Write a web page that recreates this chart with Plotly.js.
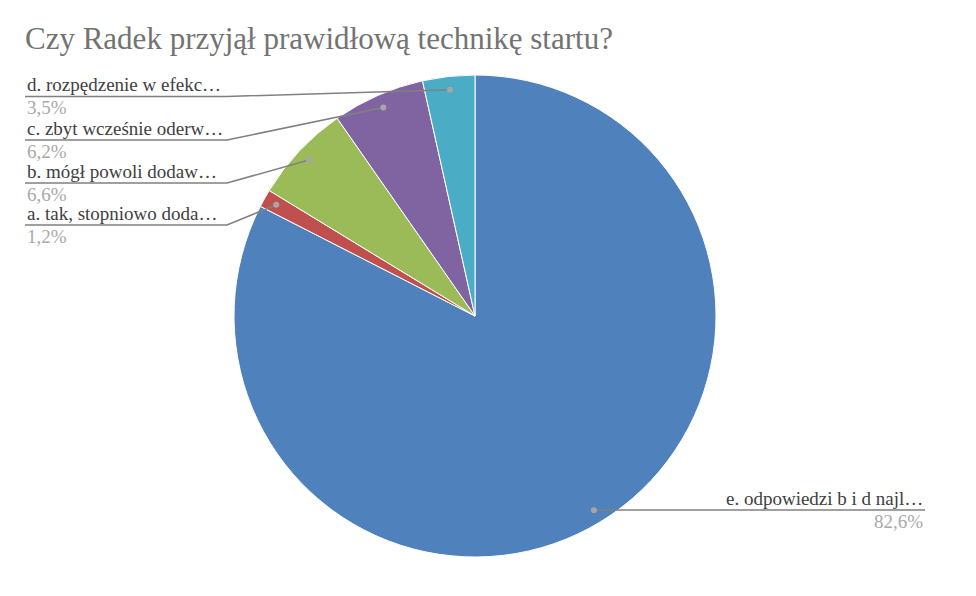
<!DOCTYPE html>
<html>
<head>
<meta charset="utf-8">
<script src="https://cdn.plot.ly/plotly-3.0.1.min.js"></script>
<style>html,body{margin:0;padding:0;background:#fff;}#chart{width:976px;height:596px;}
#chart text{font-family:"Liberation Serif",serif !important;}</style>
</head>
<body>
<div style="position:absolute;left:0;top:0;font-family:'Liberation Serif';font-size:19px;color:#fff;opacity:0.01;">Czy Radek przyjął …</div>
<div id="chart" style="position:relative;"></div>
<script>
const titleText = 'Czy Radek przyjął prawidłową technikę startu?';
const labels = ['e. odpowiedzi b i d najl…', 'a. tak, stopniowo doda…', 'b. mógł powoli dodaw…', 'c. zbyt wcześnie oderw…', 'd. rozpędzenie w efekc…'];
const values = [82.6, 1.2, 6.6, 6.2, 3.5];
const pctLabels = ['82,6%', '1,2%', '6,6%', '6,2%', '3,5%'];
const colors = ['#4f81bd', '#c0504d', '#9bbb59', '#8064a2', '#4bacc6'];

const W = 976, H = 596;
const cx = 475, cy = 316, R = 241;
const px = x => x / W;
const py = y => 1 - y / H;
const SERIF = 'Liberation Serif';

// label layout (pixel positions of label blocks), index-aligned with labels
const labelLayout = [
  {side: 'right', x: 925, uy: 510},
  {side: 'left', x: 25, uy: 225, ux1: 227},
  {side: 'left', x: 25, uy: 183, ux1: 227},
  {side: 'left', x: 25, uy: 140, ux1: 227},
  {side: 'left', x: 25, uy: 96.5, ux1: 227}
];

const total = values.reduce((a, b) => a + b, 0);
let cum = 0;
const shapes = [];
const annotations = [];
values.forEach((v, i) => {
  const mid = (cum + v / 2) / total * 2 * Math.PI;
  cum += v;
  const dx = cx + 0.945 * R * Math.sin(mid);
  const dy = cy - 0.945 * R * Math.cos(mid);
  const L = labelLayout[i];
  let path;
  if (L.side === 'left') {
    path = `M ${px(L.x)} ${py(L.uy)} L ${px(L.ux1)} ${py(L.uy)} L ${px(dx)} ${py(dy)}`;
  } else {
    path = `M ${px(dx)} ${py(L.uy)} L ${px(L.x)} ${py(L.uy)}`;
  }
  shapes.push({type: 'path', xref: 'paper', yref: 'paper', path: path, line: {color: '#808080', width: 1.5}});
  shapes.push({type: 'circle', xref: 'paper', yref: 'paper',
    x0: px(dx - 3), x1: px(dx + 3), y0: py(dy + 3), y1: py(dy - 3),
    fillcolor: '#a6a6a6', line: {width: 0}});
  const anchor = L.side === 'left' ? 'left' : 'right';
  annotations.push({xref: 'paper', yref: 'paper', x: px(L.x), y: py(L.uy - 11.5), xanchor: anchor, yanchor: 'middle',
    text: labels[i], showarrow: false, font: {family: SERIF, size: 19, color: '#404040'}});
  annotations.push({xref: 'paper', yref: 'paper', x: px(L.x), y: py(L.uy + 11.5), xanchor: anchor, yanchor: 'middle',
    text: pctLabels[i], showarrow: false, font: {family: SERIF, size: 19, color: '#a9a9a9'}});
});

const trace = {
  type: 'pie',
  labels: labels,
  values: values,
  sort: false,
  direction: 'clockwise',
  rotation: 0,
  textinfo: 'none',
  hoverinfo: 'label+percent',
  marker: {colors: colors, line: {color: '#ffffff', width: 1}},
  domain: {x: [px(cx - R), px(cx + R)], y: [py(cy + R), py(cy - R)]}
};

const layout = {
  width: W, height: H,
  margin: {l: 0, r: 0, t: 0, b: 0},
  paper_bgcolor: '#ffffff',
  showlegend: false,
  font: {family: SERIF},
  title: {text: titleText, x: px(25), xanchor: 'left', xref: 'paper', y: py(38), yanchor: 'middle', yref: 'paper',
    font: {family: SERIF, size: 31, color: '#737373'}},
  shapes: shapes,
  annotations: annotations
};

const config = {displayModeBar: false, staticPlot: true};
Plotly.newPlot('chart', [trace], layout, config);
if (document.fonts && document.fonts.load) {
  document.fonts.load('19px "Liberation Serif"').then(() => {
    Plotly.react('chart', [trace], layout, config);
  }).catch(() => {});
}
</script>
</body>
</html>
